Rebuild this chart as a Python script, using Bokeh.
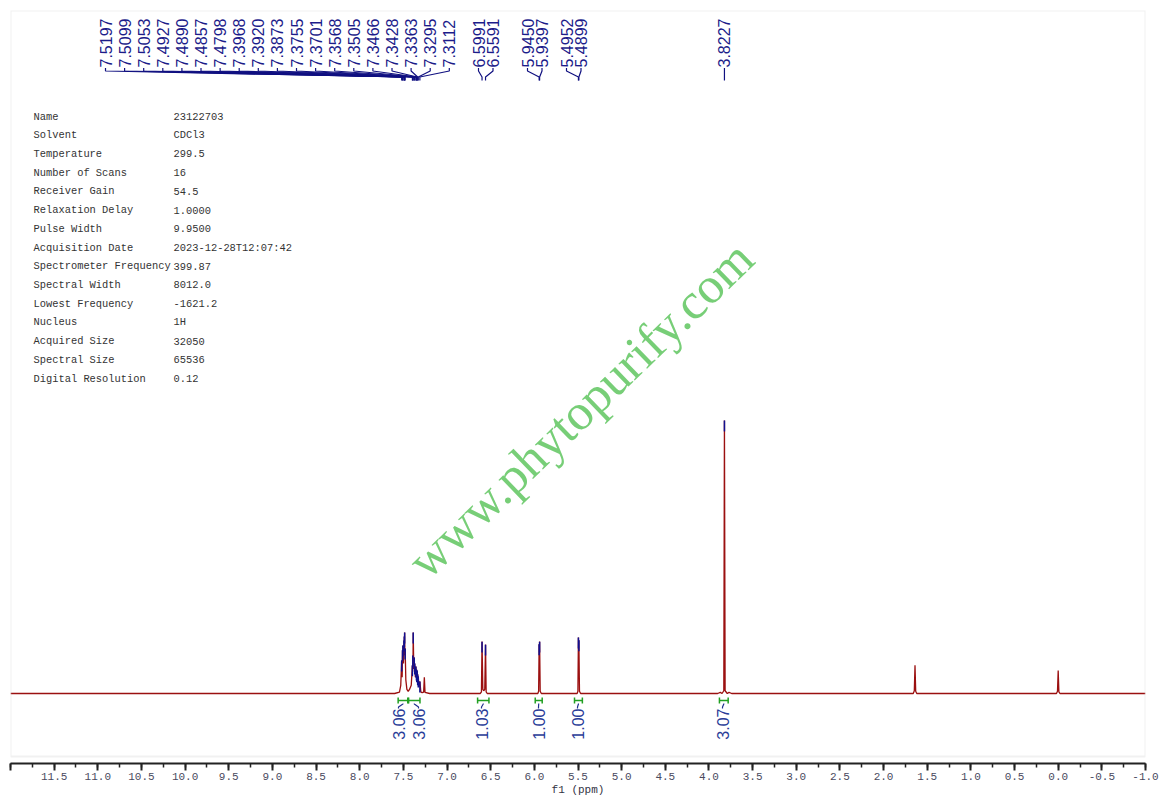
import math
from bokeh.plotting import figure
from bokeh.models import Range1d, BoxAnnotation, SingleIntervalTicker, PrintfTickFormatter
from bokeh.core.properties import value
from bokeh.embed import file_html
from bokeh.resources import INLINE

# ---------------- data ----------------
# 1H spectrum trace: chemical shift (ppm) and relative intensity (3.8227 peak = 100)
spec_ppm = [12.0, 7.60, 7.545, 7.53, 7.5197, 7.514, 7.5099, 7.5075, 7.5053, 7.499, 7.4927, 7.491,
            7.4890, 7.4875, 7.4857, 7.483, 7.4798, 7.472, 7.46, 7.445, 7.43, 7.41, 7.3968, 7.394,
            7.3920, 7.390, 7.3873, 7.381, 7.3755, 7.373, 7.3701, 7.363, 7.3568, 7.353, 7.3505,
            7.3485, 7.3466, 7.345, 7.3428, 7.339, 7.3363, 7.333, 7.3295, 7.322, 7.3112, 7.300,
            7.285, 7.268, 7.26, 7.252, 7.20, 6.62, 6.606, 6.5991, 6.59, 6.58, 6.568, 6.5591, 6.552,
            6.54, 5.96, 5.951, 5.9450, 5.942, 5.9397, 5.933, 5.92, 5.51, 5.501, 5.4952, 5.4925,
            5.4899, 5.483, 5.47, 3.90, 3.87, 3.85, 3.830, 3.8227, 3.815, 3.79, 3.77, 3.74, 1.66,
            1.648, 1.64, 1.632, 1.62, 0.02, 0.008, 0.0, -0.008, -0.02, -1.0]
spec_int = [0.0, 0.0, 0.5, 3.0, 12.1, 6.0, 15.8, 12.0, 17.6, 11.0, 19.4, 17.0,
            20.9, 18.0, 22.3, 14.0, 16.5, 5.0, 1.5, 0.8, 1.5, 3.0, 10.3, 8.0,
            13.9, 11.0, 22.3, 9.0, 13.2, 10.0, 11.0, 6.0, 9.9, 7.0, 8.8,
            7.0, 8.1, 7.0, 8.4, 6.0, 7.0, 5.0, 6.2, 2.5, 4.4, 0.6,
            0.3, 0.5, 5.9, 0.4, 0.0, 0.0, 0.6, 19.0, 1.5, 1.0, 1.5, 17.9, 0.6,
            0.0, 0.0, 0.8, 18.0, 14.0, 19.0, 0.8, 0.0, 0.0, 0.8, 20.5, 16.0,
            19.5, 0.8, 0.0, 0.0, 0.4, 0.0, 1.0, 100.0, 1.0, 0.0, 0.4, 0.0, 0.0,
            1.0, 10.3, 0.8, 0.0, 0.0, 0.8, 8.4, 0.6, 0.0, 0.0]

# picked peaks (labels on top)
peak_ppm = [7.5197, 7.5099, 7.5053, 7.4927, 7.4890, 7.4857, 7.4798, 7.3968, 7.3920, 7.3873,
            7.3755, 7.3701, 7.3568, 7.3505, 7.3466, 7.3428, 7.3363, 7.3295, 7.3112,
            6.5991, 6.5591, 5.9450, 5.9397, 5.4952, 5.4899, 3.8227]

# integrals
integ_start = [7.56, 7.44, 6.65, 5.99, 5.54, 3.88]
integ_end = [7.45, 7.31, 6.52, 5.91, 5.45, 3.78]
integ_val = [3.06, 3.06, 1.03, 1.00, 1.00, 3.07]

# acquisition parameters
param_names = ["Name", "Solvent", "Temperature", "Number of Scans", "Receiver Gain",
               "Relaxation Delay", "Pulse Width", "Acquisition Date", "Spectrometer Frequency",
               "Spectral Width", "Lowest Frequency", "Nucleus", "Acquired Size",
               "Spectral Size", "Digital Resolution"]
param_values = ["23122703", "CDCl3", "299.5", "16", "54.5", "1.0000", "9.9500",
                "2023-12-28T12:07:42", "399.87", "8012.0", "-1621.2", "1H", "32050",
                "65536", "0.12"]

watermark = "www.phytopurify.com"
x_label = "f1 (ppm)"

# ---------------- layout helpers (page pixels -> data) ----------------
X_LEFT, X_RIGHT = 12.0, -1.0
FRAME_W, FRAME_H = 1135, 753
PX_PER_PPM = FRAME_W / (X_LEFT - X_RIGHT)
BASE_PAGE_Y = 693.0
PX_PER_UNIT = 2.73
FRAME_TOP_PAGE, FRAME_LEFT_PAGE = 10.0, 10.0


def px2ppm(xp):
    return X_LEFT - (xp - FRAME_LEFT_PAGE) / PX_PER_PPM


def ppm2px(ppm):
    return FRAME_LEFT_PAGE + (X_LEFT - ppm) * PX_PER_PPM


def py2int(yp):
    return (BASE_PAGE_Y - yp) / PX_PER_UNIT


y_top = py2int(FRAME_TOP_PAGE)
y_bot = py2int(FRAME_TOP_PAGE + FRAME_H)

p = figure(width=1160, height=808, output_backend="svg", toolbar_location=None,
           x_range=Range1d(X_LEFT, X_RIGHT), y_range=Range1d(y_bot, y_top),
           min_border_left=10, min_border_right=15, min_border_top=10, min_border_bottom=45)
p.outline_line_color = None
p.grid.visible = False
p.yaxis.visible = False
p.background_fill_color = "white"
p.border_fill_color = "white"

# gray panel border
p.add_layout(BoxAnnotation(left=X_LEFT, right=X_RIGHT, bottom=py2int(756), top=y_top,
                           fill_alpha=0, line_color="#cfcfcf", line_width=2))

# x axis
ax = p.xaxis[0]
ax.ticker = SingleIntervalTicker(interval=0.5, num_minor_ticks=2)
ax.formatter = PrintfTickFormatter(format="%.1f")
ax.major_label_overrides = {12: ""}
ax.axis_line_color = "#222222"
ax.axis_line_width = 2
ax.major_tick_line_color = "#222222"
ax.major_tick_line_width = 2
ax.major_tick_out = 7
ax.major_tick_in = 0
ax.minor_tick_line_color = "#222222"
ax.minor_tick_line_width = 1.5
ax.minor_tick_out = 4
ax.minor_tick_in = 0
ax.major_label_text_font = "Liberation Mono"
ax.major_label_text_font_size = "11px"
ax.major_label_text_color = "#4a4a5e"
ax.major_label_standoff = 2
ax.axis_label = x_label
ax.axis_label_text_font = "Liberation Mono"
ax.axis_label_text_font_size = "11px"
ax.axis_label_text_font_style = "normal"
ax.axis_label_text_color = "#333344"
ax.axis_label_standoff = 1

# watermark
p.text(x=[px2ppm(580)], y=[py2int(409)], text=[watermark], angle=0.77,
       text_font=value("Liberation Serif"), text_font_size="51px",
       text_color="#55c255", text_alpha=0.8, text_align="center", text_baseline="middle")

# spectrum
p.line(spec_ppm, spec_int, line_color="#9b1010", line_width=1.3)

# peak top markers
lookup = dict(zip(spec_ppm, spec_int))
peak_int = [lookup[v] for v in peak_ppm]
p.segment(x0=peak_ppm, y0=peak_int, x1=peak_ppm, y1=[h - 4.0 for h in peak_int],
          line_color="#101090", line_width=1.5)

# peak labels (layout positions in page pixels)
label_px = [105 + 19.1 * i for i in range(19)] + [478, 492.5, 527, 541.5, 566, 580.5, ppm2px(3.8227)]
lab_x = [px2ppm(v) for v in label_px]
p.text(x=lab_x, y=[py2int(67)] * len(lab_x), text=["%.4f" % v for v in peak_ppm], angle=math.pi / 2,
       text_font=value("Liberation Sans"), text_font_size="16px", text_color="#1c1c8a",
       text_align="left", text_baseline="middle")
xs, ys = [], []
for lx, pk in zip(lab_x, peak_ppm):
    xs.append([lx, lx, pk, pk])
    ys.append([py2int(67.5), py2int(70.5), py2int(76.5), py2int(80)])
p.multi_line(xs, ys, line_color="#101080", line_width=1.2)

# integrals
yb = py2int(700)
dh = 3.0 / PX_PER_UNIT
p.segment(x0=integ_start, y0=[yb] * 6, x1=integ_end, y1=[yb] * 6, line_color="#22a022", line_width=1.5)
p.segment(x0=integ_start, y0=[yb - dh] * 6, x1=integ_start, y1=[yb + dh] * 6, line_color="#22a022", line_width=1.5)
p.segment(x0=integ_end, y0=[yb - dh] * 6, x1=integ_end, y1=[yb + dh] * 6, line_color="#22a022", line_width=1.5)
int_lab_px = [398, 418, 481, 538, 577, 722]
int_lab_x = [px2ppm(v) for v in int_lab_px]
ixs, iys = [], []
for a, b, lx in zip(integ_start, integ_end, int_lab_x):
    c = (a + b) / 2
    ixs.append([c, c, lx, lx])
    iys.append([yb - dh, py2int(703.5), py2int(706.5), py2int(708)])
p.multi_line(ixs, iys, line_color="#203090", line_width=1.2)
p.text(x=int_lab_x, y=[py2int(708)] * 6, text=["%.2f" % v for v in integ_val], angle=math.pi / 2,
       text_font=value("Liberation Sans"), text_font_size="16px", text_color="#2a3c98",
       text_align="right", text_baseline="middle")

# parameter table
row_y = [py2int(116 + 18.72 * i) for i in range(len(param_names))]
p.text(x=[px2ppm(33)] * len(param_names), y=row_y, text=param_names,
       text_font=value("Liberation Mono"), text_font_size="10.4px", text_color="#333333",
       text_align="left", text_baseline="middle")
p.text(x=[px2ppm(173)] * len(param_values), y=row_y, text=param_values,
       text_font=value("Liberation Mono"), text_font_size="10.4px", text_color="#333333",
       text_align="left", text_baseline="middle")

open("out.html", "w").write(file_html(p, INLINE))
